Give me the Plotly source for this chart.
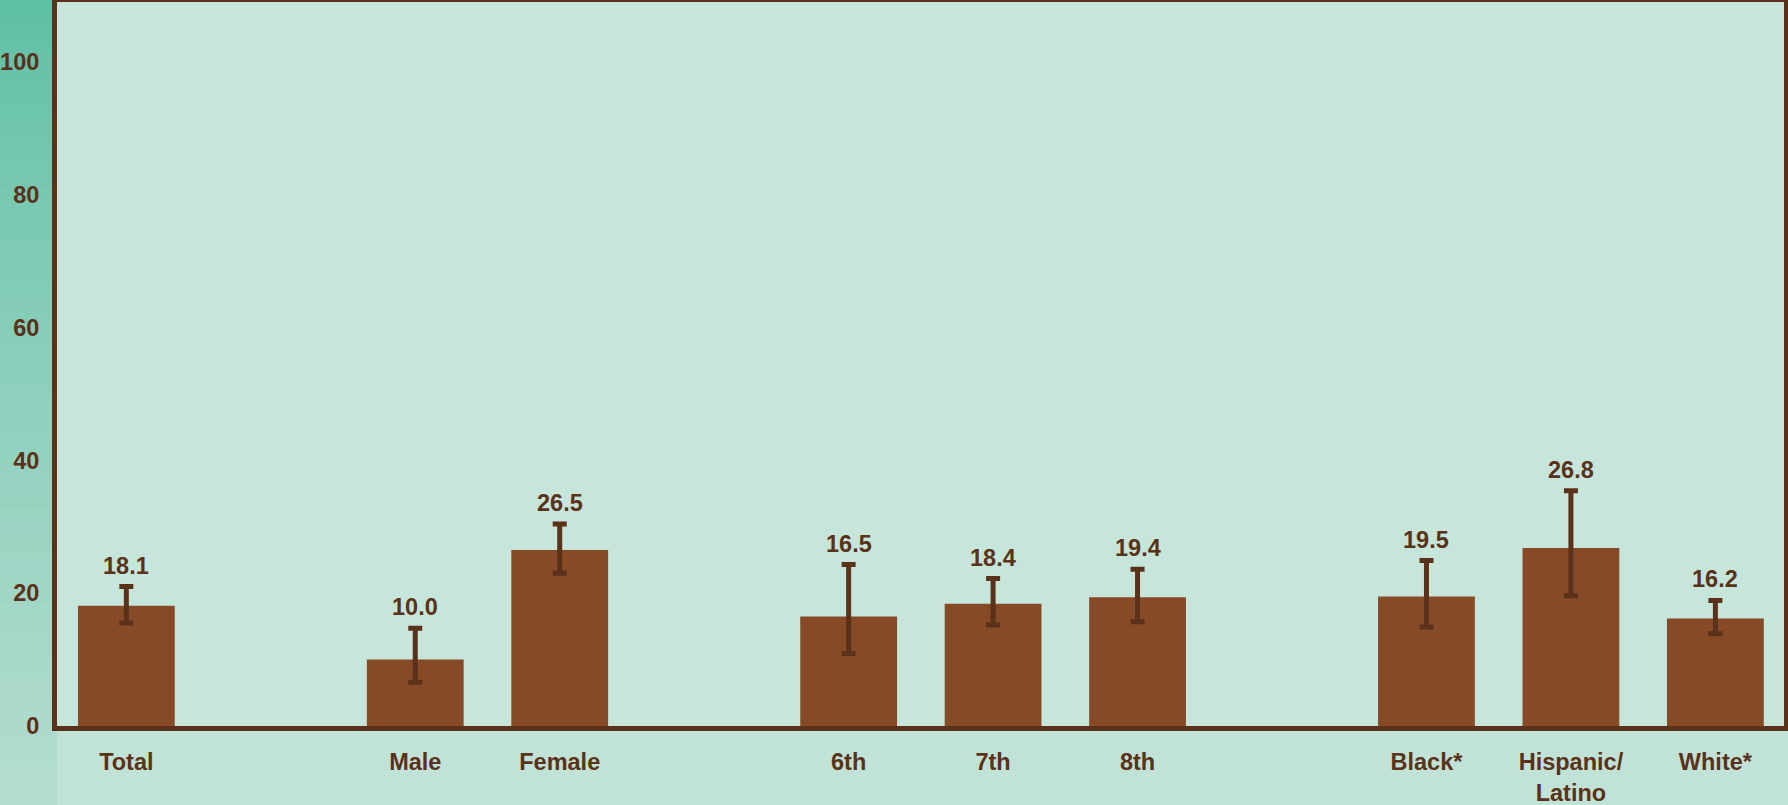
import plotly.graph_objects as go

# ---- data ----
categories = ["Total", " ", "Male", "Female", "  ", "6th", "7th", "8th", "   ",
              "Black*", "Hispanic/<br>Latino", "White*"]
values = [18.1, None, 10.0, 26.5, None, 16.5, 18.4, 19.4, None, 19.5, 26.8, 16.2]
upper = [21.0, None, 14.7, 30.4, None, 24.3, 22.2, 23.6, None, 24.9, 35.4, 18.9]
lower = [15.5, None, 6.6, 23.0, None, 10.9, 15.2, 15.7, None, 14.9, 19.6, 13.9]
y_ticks = [0, 20, 40, 60, 80, 100]

BROWN = "#5a3219"
BAR = "#874a27"
FONT = "Liberation Sans, Arial, sans-serif"
FS = 23.5

err_plus = [None if v is None else round(u - v, 2) for v, u in zip(values, upper)]
err_minus = [None if v is None else round(v - l, 2) for v, l in zip(values, lower)]

fig = go.Figure()
fig.add_trace(go.Bar(
    x=categories, y=values,
    marker=dict(color=BAR, line=dict(width=0)),
    width=0.67,
    error_y=dict(type="data", symmetric=False, array=err_plus, arrayminus=err_minus,
                 color=BROWN, thickness=5, width=7),
    hoverinfo="skip",
))

annotations = []
for c, v, u in zip(categories, values, upper):
    if v is None:
        continue
    annotations.append(dict(
        x=c, y=u, xref="x", yref="y", text=f"<b>{v:.1f}</b>", showarrow=False,
        yanchor="bottom", yshift=6,
        font=dict(family=FONT, size=FS, color=BROWN, weight="bold"),
    ))

# left strip gradient (styling only)
L, R, T, B = 57, 4, 2, 79
PW, PH = 1788 - L - R, 805 - T - B
shapes = []
n = 60
c0 = (93, 191, 164)
c1 = (180, 221, 209)
left_w = L / PW
for i in range(n):
    t = i / (n - 1)
    r = int(c0[0] + (c1[0] - c0[0]) * t ** 0.8)
    g = int(c0[1] + (c1[1] - c0[1]) * t ** 0.8)
    b = int(c0[2] + (c1[2] - c0[2]) * t ** 0.8)
    top = 1 + T / PH
    y1 = top - i / n * (805 / PH)
    y0 = top - (i + 1) / n * (805 / PH)
    shapes.append(dict(type="rect", xref="paper", yref="paper",
                       x0=-left_w - 0.01, x1=0, y0=y0, y1=y1 + 0.001,
                       fillcolor=f"rgb({r},{g},{b})", line=dict(width=0), layer="below"))

fig.update_layout(
    width=1788, height=805,
    margin=dict(l=L, r=R, t=T, b=B),
    paper_bgcolor="#c1e2d7",
    plot_bgcolor="#c6e6dc",
    showlegend=False,
    bargap=0.33,
    annotations=annotations,
    shapes=shapes,
    font=dict(family=FONT, size=FS, color=BROWN, weight="bold"),
    xaxis=dict(
        type="category", categoryorder="array", categoryarray=categories,
        tickvals=categories, ticktext=[f"<b>{c}</b>" for c in categories],
        range=[-0.48, 11.475], automargin=False,
        showline=True, mirror=True, linecolor=BROWN, linewidth=5,
        ticks="", showgrid=False, zeroline=False,
        tickfont=dict(family=FONT, size=FS, color=BROWN, weight="bold"),
        ticklabelstandoff=11,
    ),
    yaxis=dict(
        range=[0, 109], tickvals=y_ticks, ticktext=[f"<b>{v}</b>" for v in y_ticks],
        automargin=False,
        showline=True, mirror=True, linecolor=BROWN, linewidth=5,
        ticks="", showgrid=False, zeroline=False,
        tickfont=dict(family=FONT, size=FS, color=BROWN, weight="bold"),
        ticklabelstandoff=8,
    ),
)

fig.write_html("out.html", config={"displayModeBar": False},
               post_script="document.body.style.margin='0';document.body.style.overflow='hidden';")
